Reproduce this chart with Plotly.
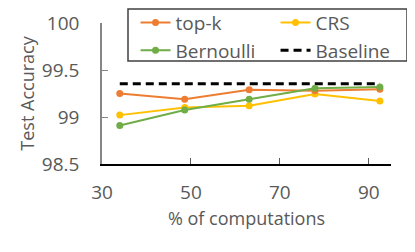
import plotly.graph_objects as go

x_vals = [34, 48.6, 63.1, 77.9, 92.5]
topk = [99.25, 99.19, 99.29, 99.28, 99.295]
crs = [99.02, 99.10, 99.12, 99.245, 99.17]
bern = [98.91, 99.075, 99.19, 99.305, 99.32]
baseline = [99.355] * 5
x_ticks = [30, 50, 70, 90]
y_ticks = [98.5, 99, 99.5, 100]

FONT = "Open Sans"
TXT = "#595959"

fig = go.Figure()
fig.add_trace(go.Scatter(x=x_vals, y=baseline, mode="lines", name="Baseline",
                         line=dict(color="black", width=3, dash="8px,5px"), legendrank=4))
fig.add_trace(go.Scatter(x=x_vals, y=crs, mode="lines+markers", name="CRS",
                         line=dict(color="#FFC000", width=2), marker=dict(size=7), legendrank=2))
fig.add_trace(go.Scatter(x=x_vals, y=topk, mode="lines+markers", name="top-k",
                         line=dict(color="#ED7D31", width=2), marker=dict(size=7), legendrank=1))
fig.add_trace(go.Scatter(x=x_vals, y=bern, mode="lines+markers", name="Bernoulli",
                         line=dict(color="#70AD47", width=2), marker=dict(size=7), legendrank=3))

fig.update_layout(
    width=407, height=244,
    margin=dict(l=94, r=8, t=1, b=88, autoexpand=False),
    plot_bgcolor="white", paper_bgcolor="white",
    font=dict(family=FONT, size=18.5, color=TXT),
    xaxis=dict(range=[30, 95], tickvals=x_ticks, ticks="inside", ticklen=6,
               domain=[0, 289 / 305],
               tickcolor="#595959", showline=True, linecolor="black", linewidth=1.5,
               showgrid=False, zeroline=False, ticklabelstandoff=10,
               tickfont=dict(size=19),
               title=dict(text="% of computations", standoff=9, font=dict(size=18))),
    yaxis=dict(range=[98.5, 100], tickvals=y_ticks, ticktext=["98.5", "99", "99.5", "100"],
               domain=[0, 141 / 155],
               ticks="inside", ticklen=6, tickcolor="#868686",
               showline=True, linecolor="#868686", linewidth=1.5,
               showgrid=False, zeroline=False, ticklabelstandoff=17,
               tickfont=dict(size=19),
               title=dict(text="Test Accuracy", standoff=3, font=dict(size=18))),
    legend=dict(orientation="h", x=0.11, xanchor="left", y=1.035, yanchor="top",
                bgcolor="rgba(0,0,0,0)", borderwidth=0,
                entrywidth=95, font=dict(size=19, color=TXT),
                traceorder="normal"),
    shapes=[dict(type="rect", xref="paper", yref="paper",
                 x0=26 / 305, x1=1.0, y0=(164 - 61) / 155, y1=1.0,
                 line=dict(color="#404040", width=1.5), fillcolor="white", layer="below")],
    showlegend=True,
)

fig.write_html("out.html")
